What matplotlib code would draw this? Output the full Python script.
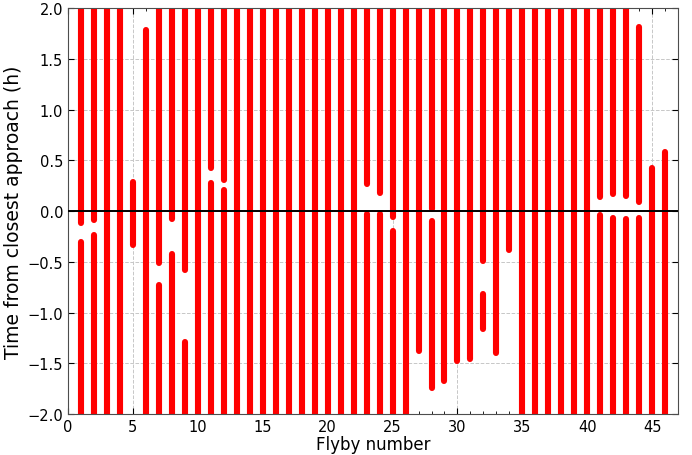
import numpy as np
import matplotlib
matplotlib.use("Agg")
import matplotlib.pyplot as plt
from matplotlib.ticker import MultipleLocator

# flyby index and the time windows (h, relative to closest approach) covered on each
flyby = list(range(1, 47))
windows = [
    [(2.0, -0.12), (-0.31, -2.0)],   # 1
    [(2.0, -0.09), (-0.24, -2.0)],   # 2
    [(2.0, -2.0)],                   # 3
    [(2.0, -2.0)],                   # 4
    [(0.29, -0.33)],                 # 5
    [(1.78, -2.0)],                  # 6
    [(2.0, -0.51), (-0.73, -2.0)],   # 7
    [(2.0, -0.075), (-0.42, -2.0)],  # 8
    [(2.0, -0.58), (-1.29, -2.0)],   # 9
    [(2.0, -2.0)],                   # 10
    [(2.0, 0.42), (0.28, -2.0)],     # 11
    [(2.0, 0.31), (0.21, -2.0)],     # 12
    [(2.0, -2.0)],                   # 13
    [(2.0, -2.0)],                   # 14
    [(2.0, -2.0)],                   # 15
    [(2.0, -2.0)],                   # 16
    [(2.0, -2.0)],                   # 17
    [(2.0, -2.0)],                   # 18
    [(2.0, -2.0)],                   # 19
    [(2.0, -2.0)],                   # 20
    [(2.0, -2.0)],                   # 21
    [(2.0, -2.0)],                   # 22
    [(2.0, 0.27), (-0.03, -2.0)],    # 23
    [(2.0, 0.18), (-0.03, -2.0)],    # 24
    [(2.0, -0.06), (-0.20, -2.0)],   # 25
    [(2.0, -2.0)],                   # 26
    [(2.0, -1.38)],                  # 27
    [(2.0, 0.02), (-0.10, -1.74)],   # 28
    [(2.0, -1.67)],                  # 29
    [(2.0, -1.48)],                  # 30
    [(2.0, -1.46)],                  # 31
    [(2.0, -0.49), (-0.815, -1.16)], # 32
    [(2.0, -1.40)],                  # 33
    [(2.0, -0.38)],                  # 34
    [(2.0, -2.0)],                   # 35
    [(2.0, -2.0)],                   # 36
    [(2.0, -2.0)],                   # 37
    [(2.0, -2.0)],                   # 38
    [(2.0, -2.0)],                   # 39
    [(2.0, -2.0)],                   # 40
    [(2.0, 0.14), (-0.04, -2.0)],    # 41
    [(2.0, 0.17), (-0.07, -2.0)],    # 42
    [(2.0, 0.15), (-0.08, -2.0)],    # 43
    [(1.81, 0.09), (-0.07, -2.0)],   # 44
    [(0.42, -2.0)],                  # 45
    [(0.58, -2.0)],                  # 46
]

fig = plt.figure(figsize=(6.92, 4.56), dpi=100)
ax = fig.add_axes([0.0983, 0.0899, 0.8817, 0.8903])

for n, segs in zip(flyby, windows):
    for y0, y1 in segs:
        ax.plot([n, n], [y0, y1], color="red", lw=4.4, solid_capstyle="round", zorder=2)

ax.axhline(0, color="black", lw=1.4, zorder=3)

ax.set_xlim(0, 47)
ax.set_ylim(-2, 2)
ax.xaxis.set_major_locator(MultipleLocator(5))
ax.xaxis.set_minor_locator(MultipleLocator(1))
ax.yaxis.set_major_locator(MultipleLocator(0.5))
ax.tick_params(which="both", direction="in", top=True, right=True, labelsize=10.5)
ax.tick_params(which="major", length=4)
ax.tick_params(which="minor", length=2)
ax.grid(True, which="major", ls="--", color="0.78", lw=0.7, zorder=0)
for s in ax.spines.values():
    s.set_color("0.3")

ax.set_xlabel("Flyby number", fontsize=12, labelpad=1)
ax.set_ylabel("Time from closest approach (h)", fontsize=13.5, labelpad=3)

fig.savefig("out.png", dpi=100)
